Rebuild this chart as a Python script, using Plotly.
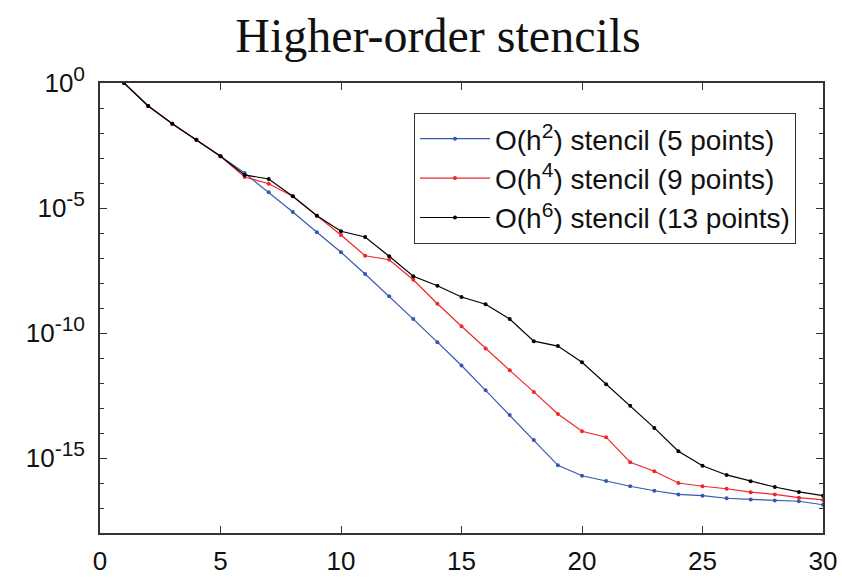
import plotly.graph_objects as go

x = list(range(1, 31))

err_o2 = [1.0, 1.2e-1, 2.34e-2, 5.37e-3, 1.17e-3, 2.5e-4, 4.3e-5, 6.9e-6, 1.07e-6, 1.7e-7,
          2.3e-8, 2.95e-9, 3.6e-10, 4.3e-11, 5.0e-12, 5.1e-13, 5.2e-14, 5.2e-15, 5.1e-16, 1.95e-16,
          1.2e-16, 7.4e-17, 4.9e-17, 3.5e-17, 3.1e-17, 2.45e-17, 2.2e-17, 2.0e-17, 1.86e-17, 1.35e-17]
err_o4 = [1.0, 1.2e-1, 2.34e-2, 5.37e-3, 1.17e-3, 1.74e-4, 9.3e-5, 2.95e-5, 4.9e-6, 8.3e-7,
          1.23e-7, 8.5e-8, 1.35e-8, 1.48e-9, 1.86e-10, 2.4e-11, 3.2e-12, 4.4e-13, 5.8e-14, 1.17e-14,
          6.8e-15, 6.8e-16, 2.95e-16, 1.0e-16, 7.4e-17, 5.9e-17, 4.3e-17, 3.5e-17, 2.6e-17, 2.1e-17]
err_o6 = [1.0, 1.2e-1, 2.34e-2, 5.37e-3, 1.17e-3, 2.1e-4, 1.45e-4, 2.95e-5, 4.9e-6, 1.17e-6,
          6.9e-7, 1.17e-7, 1.86e-8, 7.8e-9, 2.75e-9, 1.41e-9, 3.6e-10, 4.7e-11, 3.0e-11, 6.8e-12,
          8.9e-13, 1.23e-13, 1.6e-14, 1.86e-15, 4.9e-16, 2.1e-16, 1.17e-16, 6.9e-17, 4.4e-17, 3.1e-17]

orders = ["2", "4", "6"]
points = ["5", "9", "13"]
colors = ["#3558b0", "#f0262a", "#000000"]

x_ticks = [0, 5, 10, 15, 20, 25, 30]
y_major = [1e0, 1e-5, 1e-10, 1e-15]
y_major_exp = ["0", "-5", "-10", "-15"]
y_minor = [10.0 ** (-k) for k in range(0, 19) if k % 5 != 0]

SUP = "<sup><span style='font-size:21px'>{}</span></sup>"

fig = go.Figure()
for ys, o, p, c in zip([err_o2, err_o4, err_o6], orders, points, colors):
    nm = "O(h" + SUP.format(o) + ") stencil (" + p + " points)"
    fig.add_trace(go.Scatter(x=x, y=ys, name=nm, mode="lines+markers",
                             line=dict(color=c, width=1.2),
                             marker=dict(color=c, size=4)))

axis_font = dict(family="Liberation Sans, Arial, sans-serif", size=26, color="#111111")

fig.update_layout(
    width=842, height=580,
    margin=dict(l=100, r=19, t=83, b=47),
    paper_bgcolor="white", plot_bgcolor="white",
    title=dict(text="Higher-order stencils", x=438 / 842, xanchor="center", xref="container",
               y=1 - 35 / 580, yanchor="middle", yref="container",
               font=dict(family="Liberation Serif, Times New Roman, serif", size=48, color="#111111")),
    showlegend=True,
    legend=dict(x=(414 - 100) / 723, y=(533 - 113) / 450, xanchor="left", yanchor="top",
                bgcolor="white", bordercolor="#333333", borderwidth=1,
                font=dict(family="Liberation Sans, Arial, sans-serif", size=28, color="#111111"),
                tracegroupgap=0, itemwidth=70),
)

fig.update_xaxes(range=[0, 30], tickmode="array", tickvals=x_ticks,
                 ticktext=[str(v) for v in x_ticks], automargin=False,
                 ticks="inside", ticklen=7, tickwidth=1, tickcolor="#333333",
                 showline=True, linecolor="#333333", linewidth=1.5, mirror="ticks",
                 showgrid=False, zeroline=False, tickfont=axis_font, ticklabelstandoff=4)

fig.update_yaxes(type="log", range=[-18, 0], tickmode="array", tickvals=y_major,
                 ticktext=["10" + SUP.format(e) for e in y_major_exp], automargin=False,
                 ticks="inside", ticklen=7, tickwidth=1, tickcolor="#333333",
                 minor=dict(tickmode="array", tickvals=y_minor, ticks="inside", ticklen=4,
                            tickcolor="#333333", showgrid=False),
                 showline=True, linecolor="#333333", linewidth=1.5, mirror="ticks",
                 showgrid=False, zeroline=False, tickfont=axis_font, ticklabelstandoff=8)

fig.write_html("out.html")
